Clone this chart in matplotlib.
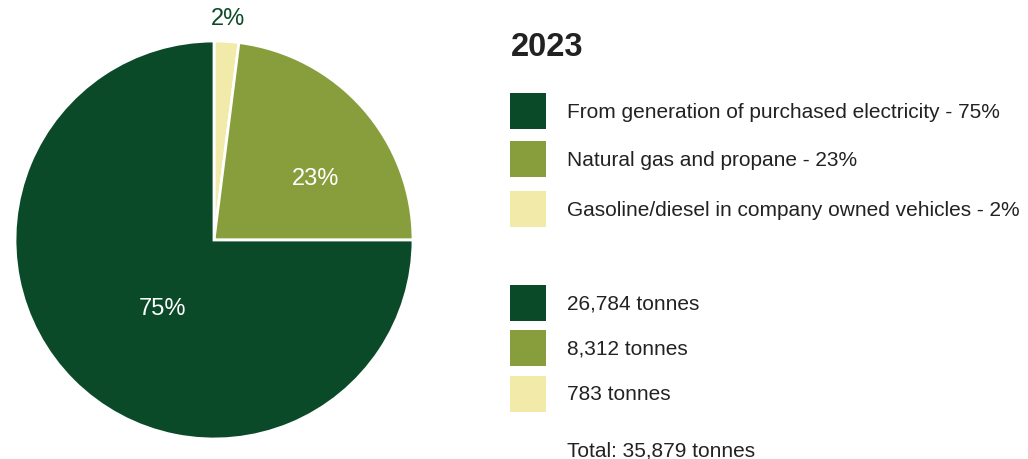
import numpy as np
import matplotlib
matplotlib.use('Agg')
import matplotlib.pyplot as plt
from matplotlib.patches import Rectangle

plt.rcParams['font.family'] = ['Liberation Sans', 'DejaVu Sans']

year = '2023'
categories = ['Gasoline/diesel in company owned vehicles', 'Natural gas and propane',
              'From generation of purchased electricity']
tonnes = [783, 8312, 26784]
percent = [2, 23, 75]
colors = ['#f2eaa8', '#889e3d', '#0b4a28']

W, H = 1028, 460
fig = plt.figure(figsize=(W / 100, H / 100), dpi=100)

# pie axes, centre (214, 241) radius 199 px
cx, cy, R = 214, 241, 199
ax = fig.add_axes([(cx - R) / W, (H - cy - R) / H, 2 * R / W, 2 * R / H])
wedges, _ = ax.pie(percent, colors=colors, startangle=90, counterclock=False,
                   wedgeprops=dict(edgecolor='white', linewidth=2))
ax.set_aspect('equal')
ax.set_xlim(-1, 1)
ax.set_ylim(-1, 1)

# label placement (radius, angle offset from wedge middle)
label_pos = [(1.12, 0), (0.6, -10), (0.43, 8)]
label_col = ['#0b4a28', 'white', 'white']
for w, p, (r, off), c in zip(wedges, percent, label_pos, label_col):
    mid = np.deg2rad((w.theta1 + w.theta2) / 2 + off)
    ax.text(r * np.cos(mid), r * np.sin(mid), f'{p}%', color=c, fontsize=17,
            ha='center', va='center', clip_on=False)

txt = '#222222'
fig.text(511 / W, 1 - 48 / H, year, fontsize=23.5, fontweight='bold', color=txt,
         ha='left', va='center')

def swatch(y, col):
    fig.add_artist(Rectangle((510 / W, 1 - (y + 18) / H), 36 / W, 36 / H,
                             transform=fig.transFigure, color=col, lw=0))

# first legend block: category + percent
rows1 = [112, 160, 210]
order = [2, 1, 0]
for y, i in zip(rows1, order):
    swatch(y, colors[i])
    fig.text(567 / W, 1 - y / H, f'{categories[i]} - {percent[i]}%',
             fontsize=15, color=txt, ha='left', va='center')

# second legend block: tonnes
rows2 = [304, 349, 395]
for y, i in zip(rows2, order):
    swatch(y, colors[i])
    fig.text(567 / W, 1 - y / H, f'{tonnes[i]:,} tonnes',
             fontsize=15, color=txt, ha='left', va='center')

fig.text(567 / W, 1 - 451 / H, f'Total: {sum(tonnes):,} tonnes',
         fontsize=15, color=txt, ha='left', va='center')

fig.savefig('out.png', dpi=100, facecolor='white')
